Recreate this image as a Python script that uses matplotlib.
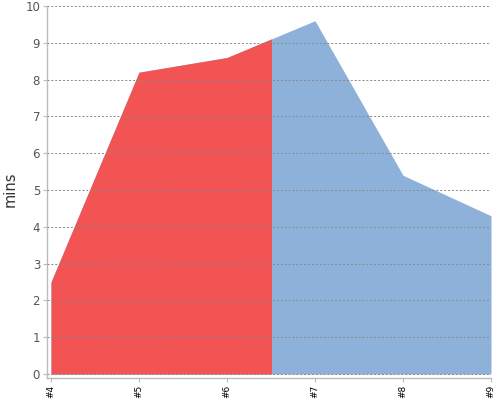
import numpy as np
import matplotlib
matplotlib.use("Agg")
import matplotlib.pyplot as plt
from matplotlib.patches import Rectangle

# data
labels = ["#4", "#5", "#6", "#7", "#8", "#9"]
mins = [2.5, 8.2, 8.6, 9.6, 5.4, 4.3]
split_at = 6.5          # red up to here, blue after
yticks = list(range(0, 11))

red = "#f25454"
blue = "#8eb1da"
grey = "#bbbbbb"

x = np.arange(4, 4 + len(labels))

fig = plt.figure(figsize=(5, 4), dpi=100)
ax = fig.add_axes([47 / 500, 22 / 400, 444 / 500, 372 / 400])

ax.fill_between(x, 0, mins, color=blue, lw=0, zorder=1)
red_area = ax.fill_between(x, 0, mins, color=red, lw=0, zorder=2)
clip = Rectangle((x[0] - 1, -1), split_at - x[0] + 1, 20,
                 transform=ax.transData)
red_area.set_clip_path(clip)

ax.set_xlim(x[0] - 4 / 88, x[-1])
ax.set_ylim(-4 / 36.8, 10)

ax.set_yticks(yticks)
ax.set_xticks(x)
ax.set_xticklabels(labels, rotation=90, fontsize=6.5, color="black")
ax.tick_params(axis="y", labelsize=8.5, labelcolor="#555555", color=grey,
               length=3, pad=2)
ax.tick_params(axis="x", color=grey, length=3, pad=2)

ax.grid(axis="y", color="#888888", lw=0.7, linestyle=(0, (2, 2)), zorder=3)
ax.set_axisbelow(False)

for s in ["top", "right"]:
    ax.spines[s].set_visible(False)
for s in ["left", "bottom"]:
    ax.spines[s].set_color(grey)
    ax.spines[s].set_linewidth(1)

ax.set_ylabel("mins", fontsize=10.5, color="#333333")
ax.yaxis.set_label_coords((18 - 47) / 444, (378 - 189) / 372)

fig.savefig("out.png", dpi=100)
